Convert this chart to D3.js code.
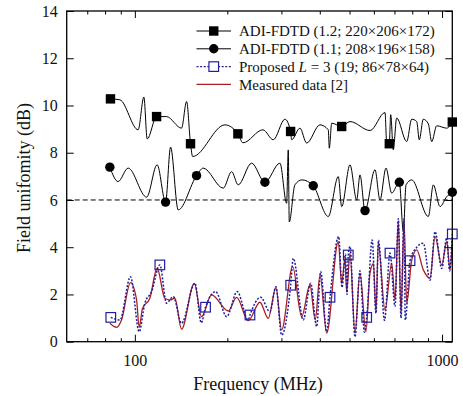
<!DOCTYPE html>
<html>
<head>
<meta charset="utf-8">
<script src="https://cdn.jsdelivr.net/npm/d3@7"></script>
<style>
  body { margin: 0; background: #fff; }
  svg { display: block; }
</style>
</head>
<body>
<svg id="chart" width="463" height="396"></svg>
<script>
// ADI-FDTD, CFL 1.2 (220x206x172 cells)
const fdtd12Freq = [83.3, 89.4, 102.5, 107.0, 109.7, 117.7, 126.8, 141.9, 147.4, 151.8, 154.2, 196.4, 216.5, 224.9, 261.2, 282.2, 308.1, 321.4, 323.9, 344.7, 362.5, 400.6, 426.3, 429.6, 437.3, 471.3, 501.6, 583, 652.3, 660.5, 673.5, 680.6, 694, 711.8, 767.4, 796.7, 827.2, 843.3, 869, 902.4, 925.7, 960.9, 1036, 1080];
const fdtd12Val  = [10.28, 10.24, 8.97, 10.36, 8.58, 9.53, 9.53, 9.04, 10.17, 8.38, 7.84, 9.18, 8.80, 8.42, 8.97, 8.55, 9.42, 8.90, 8.55, 9.04, 8.41, 9.18, 8.97, 8.19, 9.25, 9.11, 9.32, 8.94, 9.70, 8.41, 8.38, 9.61, 8.12, 9.47, 8.47, 9.42, 9.32, 8.55, 9.42, 9.22, 8.47, 9.14, 9.04, 9.30];
const fdtd12MarkFreq = [83.3, 117.7, 151.8, 216.5, 321.4, 471.3, 673.5, 1080];
const fdtd12MarkVal  = [10.28, 9.53, 8.38, 8.80, 8.90, 9.11, 8.38, 9.30];

// ADI-FDTD, CFL 1.1 (208x196x158 cells)
const fdtd11Freq = [82.9, 88.2, 95.1, 109.2, 118.2, 125.9, 130.7, 138.4, 158.8, 166.9, 194.0, 206.5, 217.0, 239.9, 265.1, 296.7, 312.0, 315.8, 318.2, 331.9, 350, 380.9, 426.3, 459.5, 471.3, 501.6, 527.4, 540.7, 561.4, 605.0, 628.1, 657.0, 685.7, 726.1, 748.2, 763.4, 796.7, 902.4, 936.9, 985.1, 1036, 1080];
const fdtd11Val  = [7.39, 6.78, 7.35, 6.12, 7.49, 5.91, 8.24, 5.58, 7.03, 7.35, 6.5, 7.2, 6.64, 7.56, 6.75, 7.56, 5.86, 8.12, 5.07, 6.64, 6.85, 6.6, 5.30, 6.99, 5.72, 7.49, 6.0, 7.06, 5.55, 7.28, 6.0, 7.35, 6.29, 6.75, 4.65, 6.64, 6.85, 5.30, 6.64, 5.72, 6.14, 6.33];
const fdtd11MarkFreq = [82.9, 125.9, 158.8, 265.1, 380.9, 561.4, 726.1, 1080];
const fdtd11MarkVal  = [7.39, 5.91, 7.03, 6.75, 6.6, 5.55, 6.75, 6.33];

// Proposed method, L = 3 (19 s; 86x78x64 cells)
const propFreq = [83.5, 89.4, 96.8, 103.3, 107.8, 113.4, 120.6, 126.8, 133.3, 141.9, 156.9, 164.5, 169.9, 183.2, 199.0, 215.4, 233.9, 237.0, 256.7, 275.3, 287.9, 300.5, 321.6, 327.9, 353.3, 373.6, 390.8, 402.7, 421.2, 431.8, 460.9, 472.4, 485.0, 490.5, 495.2, 501.6, 520.7, 540.6, 559.1, 568.5, 592.6, 609.5, 621.1, 649.7, 677.0, 703.0, 720.6, 735.3, 752.0, 759.3, 786.8, 827.2, 869.2, 914.0, 948.9, 997.7, 1036, 1058, 1080];
const propVal  = [1.03, 0.92, 2.75, 0.42, 1.63, 2.12, 3.25, 1.63, 1.91, 0.78, 2.47, 0.8, 1.46, 2.12, 1.06, 2.12, 0.92, 1.13, 1.88, 1.27, 2.33, 0.28, 2.39, 3.53, 0.92, 2.47, 0.64, 2.97, 0.42, 1.88, 4.45, 2.3, 3.7, 2.0, 3.67, 4.03, 0.2, 3.0, 0.4, 1.03, 4.31, 1.2, 4.3, 0.9, 3.75, 1.5, 5.2, 1.0, 5.2, 0.92, 3.43, 4.0, 4.17, 2.6, 4.66, 3.1, 4.4, 3.0, 4.56];
const propMarkFreq = [83.5, 120.6, 169.9, 237.0, 321.6, 431.8, 495.2, 568.5, 677.0, 786.8, 1080];
const propMarkVal  = [1.03, 3.25, 1.46, 1.13, 2.39, 1.88, 3.67, 1.03, 3.75, 3.43, 4.56];

// Measured data [2]
const measFreq = [82.9, 87.2, 90.5, 96.8, 101.3, 103.3, 105.9, 111.9, 118.2, 125.2, 130.0, 135.0, 141.9, 156.1, 164.9, 177.7, 201.3, 214.5, 233.9, 255.4, 271.8, 287.9, 300.5, 326.4, 349.1, 371.5, 386.6, 400.6, 421.2, 459.5, 471.3, 483.1, 489.3, 501.6, 520.7, 540.6, 565.4, 582.7, 598, 609.5, 620.1, 652.1, 685.8, 703.0, 720.6, 735.3, 752.0, 767.4, 796.7, 827.2, 869.2, 914.0, 948.9, 997.7, 1036, 1062, 1080];
const measVal  = [0.78, 0.61, 0.92, 2.5, 1.77, 0.61, 1.41, 1.84, 3.11, 1.84, 1.77, 1.84, 0.53, 2.47, 1.06, 1.98, 1.30, 1.88, 0.89, 1.67, 0.99, 2.29, 0.50, 3.18, 1.06, 2.40, 0.92, 2.83, 0.36, 4.24, 2.47, 3.53, 2.12, 3.75, 0.36, 2.90, 0.42, 2.90, 3.3, 1.27, 4.17, 1.34, 3.32, 1.77, 5.1, 1.20, 5.1, 1.63, 3.46, 3.89, 3.04, 2.69, 4.45, 3.25, 4.24, 3.04, 4.31];

const thresholdDb = 6;
const xMajorTicks = [100, 1000];
const xMinorTicks = [70, 80, 90, 200, 300, 400, 500, 600, 700, 800, 900];
const yTicks = [0, 2, 4, 6, 8, 10, 12, 14];
const legendLabels = [
  "ADI-FDTD (1.2; 220×206×172)",
  "ADI-FDTD (1.1; 208×196×158)",
  "Proposed L = 3 (19; 86×78×64)",
  "Measured data [2]"
];

const FONT = "Liberation Serif, Tinos, DejaVu Serif, serif";

const svg = d3.select("#chart");
const plotL = 66.7, plotR = 452.3, plotT = 11, plotB = 341.7;

const x = d3.scaleLog().domain([60, 1080]).range([plotL, plotR]);
const y = d3.scaleLinear().domain([0, 14]).range([plotB, plotT]);

const zip = (fs, vs) => fs.map((f, i) => [f, vs[i]]);
const line = d3.line().x(d => x(d[0])).y(d => y(d[1])).curve(d3.curveMonotoneX);

svg.append("defs").append("clipPath").attr("id", "plotClip")
  .append("rect").attr("x", plotL).attr("y", plotT).attr("width", plotR - plotL).attr("height", plotB - plotT);

const plot = svg.append("g").attr("clip-path", "url(#plotClip)");

const RED = "#a91f24", BLUE = "#1f1f9e";

plot.append("path").datum(zip(fdtd12Freq, fdtd12Val)).attr("d", line)
  .attr("fill", "none").attr("stroke", "#000").attr("stroke-width", 1);
plot.append("path").datum(zip(fdtd11Freq, fdtd11Val)).attr("d", line)
  .attr("fill", "none").attr("stroke", "#000").attr("stroke-width", 1);
plot.append("path").datum(zip(measFreq, measVal)).attr("d", line)
  .attr("fill", "none").attr("stroke", RED).attr("stroke-width", 1.3);
plot.append("path").datum(zip(propFreq, propVal)).attr("d", line)
  .attr("fill", "none").attr("stroke", BLUE).attr("stroke-width", 1.5)
  .attr("stroke-dasharray", "2,1.6");

// 6 dB reference line
svg.append("line")
  .attr("x1", plotL).attr("x2", plotR)
  .attr("y1", y(thresholdDb)).attr("y2", y(thresholdDb))
  .attr("stroke", "#000").attr("stroke-width", 1).attr("stroke-dasharray", "5,3");

// markers
const sq = 9.4, circR = 4.7, osq = 9.6;
svg.append("g").selectAll("rect").data(zip(fdtd12MarkFreq, fdtd12MarkVal)).join("rect")
  .attr("x", d => x(d[0]) - sq / 2).attr("y", d => y(d[1]) - sq / 2)
  .attr("width", sq).attr("height", sq).attr("fill", "#000");
svg.append("g").selectAll("circle").data(zip(fdtd11MarkFreq, fdtd11MarkVal)).join("circle")
  .attr("cx", d => x(d[0])).attr("cy", d => y(d[1])).attr("r", circR).attr("fill", "#000");
svg.append("g").selectAll("rect").data(zip(propMarkFreq, propMarkVal)).join("rect")
  .attr("x", d => x(d[0]) - osq / 2).attr("y", d => y(d[1]) - osq / 2)
  .attr("width", osq).attr("height", osq)
  .attr("fill", "none").attr("stroke", BLUE).attr("stroke-width", 1.2);

// axes
const axisG = svg.append("g");
const fmt = d => d3.format("d")(d);

axisG.append("g").attr("transform", `translate(0,${plotB})`)
  .call(d3.axisBottom(x).tickValues(xMajorTicks).tickFormat(fmt).tickSizeInner(-7).tickSizeOuter(0).tickPadding(13));
axisG.append("g").attr("transform", `translate(0,${plotB})`)
  .call(d3.axisBottom(x).tickValues(xMinorTicks).tickFormat("").tickSizeInner(-3.5).tickSizeOuter(0));
axisG.append("g").attr("transform", `translate(0,${plotT})`)
  .call(d3.axisTop(x).tickValues(xMajorTicks).tickFormat("").tickSizeInner(-7).tickSizeOuter(0));
axisG.append("g").attr("transform", `translate(0,${plotT})`)
  .call(d3.axisTop(x).tickValues(xMinorTicks).tickFormat("").tickSizeInner(-3.5).tickSizeOuter(0));
axisG.append("g").attr("transform", `translate(${plotL},0)`)
  .call(d3.axisLeft(y).tickValues(yTicks).tickFormat(fmt).tickSizeInner(-7).tickSizeOuter(0).tickPadding(9));
axisG.append("g").attr("transform", `translate(${plotR},0)`)
  .call(d3.axisRight(y).tickValues(yTicks).tickFormat("").tickSizeInner(-7).tickSizeOuter(0));

axisG.selectAll("g").attr("font-family", FONT).attr("font-size", 16);
axisG.selectAll(".domain").remove();
axisG.selectAll(".tick line").attr("stroke", "#000").attr("stroke-width", 1);
axisG.selectAll(".tick text").attr("fill", "#111");

// frame
svg.append("rect").attr("x", plotL).attr("y", plotT)
  .attr("width", plotR - plotL).attr("height", plotB - plotT)
  .attr("fill", "none").attr("stroke", "#000").attr("stroke-width", 1.3);

// axis titles
svg.append("text").attr("x", 258).attr("y", 390).attr("text-anchor", "middle")
  .attr("font-family", FONT).attr("font-size", 18).attr("fill", "#111").text("Frequency (MHz)");
svg.append("text").attr("transform", "translate(30,178) rotate(-90)")
  .attr("text-anchor", "middle").attr("font-family", FONT).attr("font-size", 18).attr("fill", "#111")
  .text("Field unifomity (dB)");

// legend
const lg = svg.append("g");
const lx1 = 196.5, lx2 = 231, lmid = (lx1 + lx2) / 2, ltx = 239, ly0 = 31, ldy = 17.8;
const rows = [0, 1, 2, 3].map(i => ly0 + i * ldy);

lg.append("line").attr("x1", lx1).attr("x2", lx2).attr("y1", rows[0]).attr("y2", rows[0])
  .attr("stroke", "#000").attr("stroke-width", 1);
lg.append("rect").attr("x", lmid - sq / 2).attr("y", rows[0] - sq / 2).attr("width", sq).attr("height", sq).attr("fill", "#000");
lg.append("line").attr("x1", lx1).attr("x2", lx2).attr("y1", rows[1]).attr("y2", rows[1])
  .attr("stroke", "#000").attr("stroke-width", 1);
lg.append("circle").attr("cx", lmid).attr("cy", rows[1]).attr("r", circR).attr("fill", "#000");
lg.append("line").attr("x1", lx1).attr("x2", lx2).attr("y1", rows[2]).attr("y2", rows[2])
  .attr("stroke", BLUE).attr("stroke-width", 1.3).attr("stroke-dasharray", "2,1.6");
lg.append("rect").attr("x", lmid - osq / 2).attr("y", rows[2] - osq / 2).attr("width", osq).attr("height", osq)
  .attr("fill", "#fff").attr("stroke", BLUE).attr("stroke-width", 1.2);
lg.append("line").attr("x1", lx1).attr("x2", lx2).attr("y1", rows[3]).attr("y2", rows[3])
  .attr("stroke", RED).attr("stroke-width", 1.4);

legendLabels.forEach((lab, i) => {
  const t = lg.append("text").attr("x", ltx).attr("y", rows[i]).attr("dy", "0.35em")
    .attr("font-family", FONT).attr("font-size", 15).attr("fill", "#111");
  if (i === 2) {
    t.append("tspan").text("Proposed ");
    t.append("tspan").attr("font-style", "italic").text("L");
    t.append("tspan").text(" = 3 (19; 86×78×64)");
  } else {
    t.text(lab);
  }
});
</script>
</body>
</html>
